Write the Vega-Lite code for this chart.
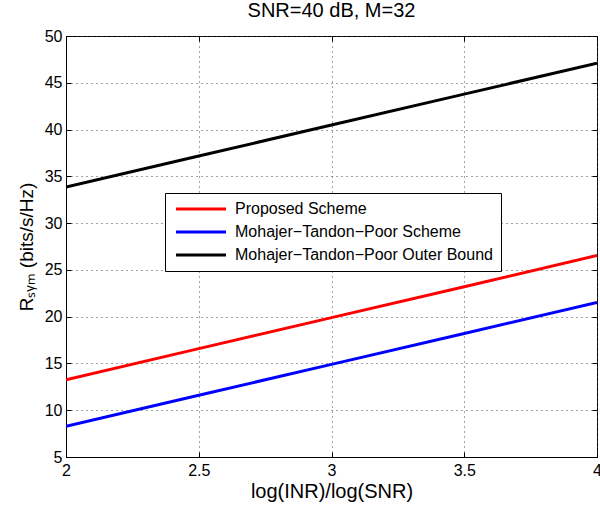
{
  "$schema": "https://vega.github.io/schema/vega-lite/v6.json",
  "autosize": "none",
  "width": 531,
  "height": 421,
  "padding": {"left": 66, "top": 36, "right": 3, "bottom": 51},
  "background": "white",
  "title": {"text": "SNR=40 dB, M=32", "font": "Liberation Sans", "fontSize": 20, "fontWeight": "normal", "color": "black", "offset": 7},
  "config": {
    "view": {"stroke": "black", "strokeWidth": 1},
    "font": "Liberation Sans"
  },
  "data": {"values": [
    {"x": 2, "y": 13.26, "s": "Proposed Scheme"},
    {"x": 2.5, "y": 16.58, "s": "Proposed Scheme"},
    {"x": 3, "y": 19.9, "s": "Proposed Scheme"},
    {"x": 3.5, "y": 23.2, "s": "Proposed Scheme"},
    {"x": 4, "y": 26.53, "s": "Proposed Scheme"},
    {"x": 2, "y": 8.29, "s": "Mohajer−Tandon−Poor Scheme"},
    {"x": 2.5, "y": 11.6, "s": "Mohajer−Tandon−Poor Scheme"},
    {"x": 3, "y": 14.9, "s": "Mohajer−Tandon−Poor Scheme"},
    {"x": 3.5, "y": 18.2, "s": "Mohajer−Tandon−Poor Scheme"},
    {"x": 4, "y": 21.53, "s": "Mohajer−Tandon−Poor Scheme"},
    {"x": 2, "y": 33.86, "s": "Mohajer−Tandon−Poor Outer Bound"},
    {"x": 2.5, "y": 37.17, "s": "Mohajer−Tandon−Poor Outer Bound"},
    {"x": 3, "y": 40.48, "s": "Mohajer−Tandon−Poor Outer Bound"},
    {"x": 3.5, "y": 43.79, "s": "Mohajer−Tandon−Poor Outer Bound"},
    {"x": 4, "y": 47.1, "s": "Mohajer−Tandon−Poor Outer Bound"}
  ]},
  "layer": [
    {
      "mark": {"type": "line", "strokeWidth": 3, "clip": true},
      "encoding": {
        "x": {"field": "x", "type": "quantitative",
          "scale": {"domain": [2, 4], "nice": false, "zero": false},
          "axis": {"values": [2, 2.5, 3, 3.5, 4], "format": "~g", "title": "log(INR)/log(SNR)", "titleFontSize": 20, "titleFontWeight": "normal", "titleColor": "black", "titlePadding": 3,
            "labelFontSize": 16, "labelColor": "black", "labelPadding": 10, "labelFlush": false,
            "domainColor": "black", "tickColor": "black", "tickSize": -5,
            "grid": true, "gridDash": [1, 4], "gridColor": "#444", "gridOpacity": 1}},
        "y": {"field": "y", "type": "quantitative",
          "scale": {"domain": [5, 50], "nice": false, "zero": false},
          "axis": {"values": [5, 10, 15, 20, 25, 30, 35, 40, 45, 50], "title": "Rₛᵧₘ (bits/s/Hz)", "titleFontSize": 19, "titleFontWeight": "normal", "titleColor": "black", "titlePadding": 8,
            "labelFontSize": 16, "labelColor": "black", "labelPadding": 9,
            "domainColor": "black", "tickColor": "black", "tickSize": -5,
            "grid": true, "gridDash": [1, 4], "gridColor": "#444", "gridOpacity": 1}},
        "color": {"field": "s", "type": "nominal",
          "scale": {"domain": ["Proposed Scheme", "Mohajer−Tandon−Poor Scheme", "Mohajer−Tandon−Poor Outer Bound"], "range": ["#ff0000", "#0000ff", "#000000"]},
          "legend": {"orient": "none", "legendX": 99, "legendY": 157, "title": null,
            "symbolType": "M-1,0H9", "symbolSize": 100, "symbolStrokeWidth": 3,
            "labelFontSize": 16, "labelColor": "black", "labelOffset": 46, "labelLimit": 400,
            "rowPadding": 7, "padding": 8, "strokeColor": "black", "fillColor": "white"}}
      }
    },
    {
      "mark": {"type": "line", "strokeOpacity": 0},
      "encoding": {
        "x": {"field": "x", "type": "quantitative",
          "axis": {"orient": "top", "values": [2, 2.5, 3, 3.5, 4], "labels": false, "title": null, "domain": false, "grid": false, "tickColor": "black", "tickSize": -5}},
        "y": {"field": "y", "type": "quantitative",
          "axis": {"orient": "right", "values": [5, 10, 15, 20, 25, 30, 35, 40, 45, 50], "labels": false, "title": null, "domain": false, "grid": false, "tickColor": "black", "tickSize": -5}},
        "detail": {"field": "s", "type": "nominal"}
      }
    }
  ],
  "resolve": {"axis": {"x": "independent", "y": "independent"}}
}
